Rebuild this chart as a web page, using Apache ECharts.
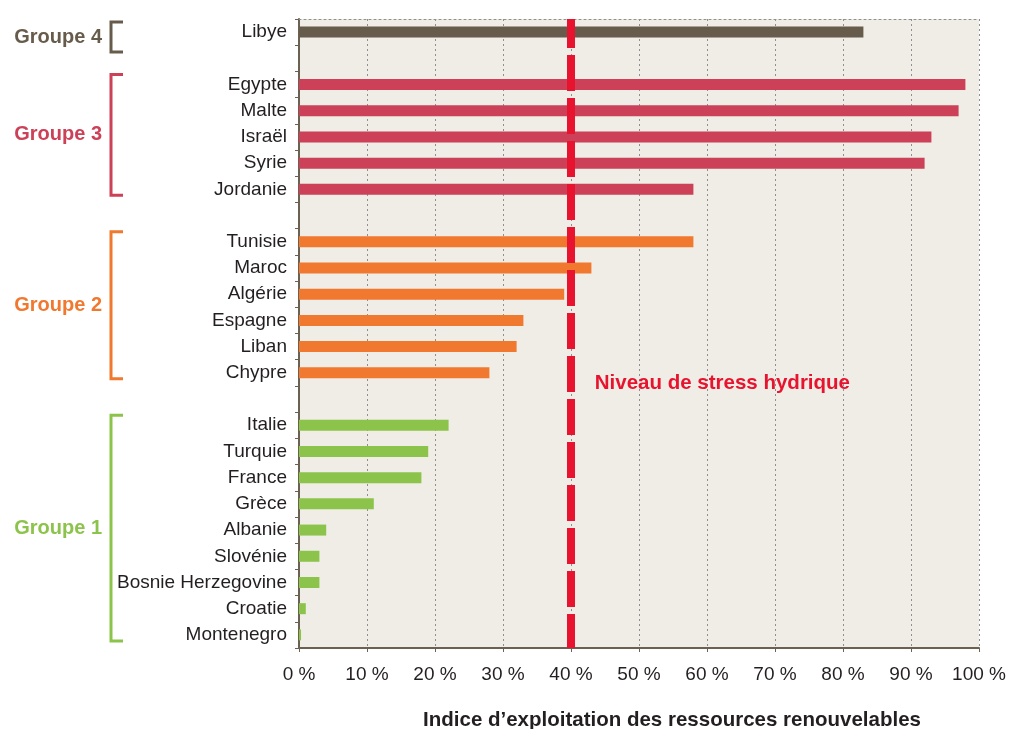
<!DOCTYPE html>
<html>
<head>
<meta charset="utf-8">
<script src="https://cdn.jsdelivr.net/npm/echarts@6/dist/echarts.min.js"></script>
<style>
    html, body { margin: 0; padding: 0; background: #fff; }
    #chart { width: 1019px; height: 729px; }
</style>
</head>
<body>
<div id="chart"></div>
<script>
// données par groupe (du haut vers le bas)
const group4Countries = ['Libye'];
const group4Values = [83];
const group3Countries = ['Egypte', 'Malte', 'Israël', 'Syrie', 'Jordanie'];
const group3Values = [98, 97, 93, 92, 58];
const group2Countries = ['Tunisie', 'Maroc', 'Algérie', 'Espagne', 'Liban', 'Chypre'];
const group2Values = [58, 43, 39, 33, 32, 28];
const group1Countries = ['Italie', 'Turquie', 'France', 'Grèce', 'Albanie', 'Slovénie', 'Bosnie Herzegovine', 'Croatie', 'Montenegro'];
const group1Values = [22, 19, 18, 11, 4, 3, 3, 1, 0.3];
const xTicks = [0, 10, 20, 30, 40, 50, 60, 70, 80, 90, 100];
const stressLevel = 40;

const groups = [
    { name: 'Groupe 4', color: '#675c4c', countries: group4Countries, values: group4Values },
    { name: 'Groupe 3', color: '#cc4157', countries: group3Countries, values: group3Values },
    { name: 'Groupe 2', color: '#f0782f', countries: group2Countries, values: group2Values },
    { name: 'Groupe 1', color: '#8cc34a', countries: group1Countries, values: group1Values }
];

// catégories avec une ligne vide entre les groupes
const categories = [];
const barData = [];
groups.forEach((g, gi) => {
    if (gi > 0) {
        categories.push(' '.repeat(gi));
        barData.push(null);
    }
    g.countries.forEach((c, i) => {
        categories.push(c);
        barData.push({ value: g.values[i], itemStyle: { color: g.color } });
    });
});

const font = '"Liberation Sans", Arial, sans-serif';
const myChart = echarts.init(document.getElementById('chart'));

const option = {
    animation: false,
    grid: {
        left: 299,
        right: 40,
        top: 19,
        bottom: 81,
        outerBoundsMode: 'none',
        containLabel: false,
        show: true,
        backgroundColor: '#efede5',
        borderWidth: 0
    },
    xAxis: [
        {
            type: 'value',
            min: xTicks[0],
            max: xTicks[xTicks.length - 1],
            interval: 10,
            name: 'Indice d\u2019exploitation des ressources renouvelables',
            nameLocation: 'middle',
            nameGap: 62,
            nameTextStyle: {
                fontFamily: font,
                fontSize: 20.5,
                fontWeight: 'bold',
                color: '#231f20',
                padding: [0, 0, 0, 66]
            },
            axisLine: { show: true, lineStyle: { color: '#6b6152', width: 2 } },
            axisTick: { show: true, length: 4, lineStyle: { color: '#6b6152' } },
            axisLabel: {
                margin: 17,
                fontFamily: font,
                fontSize: 19,
                color: '#231f20',
                formatter: '{value} %'
            },
            splitLine: { show: true, lineStyle: { color: '#8f8f8f', type: [2, 3], width: 1 } }
        },
        {
            type: 'value',
            position: 'top',
            min: 0,
            max: 100,
            interval: 10,
            axisLine: { show: true, lineStyle: { color: '#8f8f8f', type: [2, 3], width: 1 } },
            axisTick: { show: false },
            axisLabel: { show: false },
            splitLine: { show: false }
        }
    ],
    yAxis: {
        type: 'category',
        inverse: true,
        data: categories,
        axisLine: { show: true, lineStyle: { color: '#6b6152', width: 2 } },
        axisTick: { show: true, length: 4, lineStyle: { color: '#6b6152' } },
        axisLabel: {
            margin: 12,
            fontFamily: font,
            fontSize: 19,
            color: '#231f20'
        }
    },
    series: [
        {
            type: 'bar',
            data: barData,
            barWidth: 11,
            markLine: {
                silent: true,
                symbol: 'none',
                label: { show: false },
                lineStyle: { color: '#e8132f', width: 8, type: [36, 7], dashOffset: 7 },
                data: [{ xAxis: stressLevel }]
            }
        }
    ]
};
myChart.setOption(option);

// accolades des groupes et annotation, placées via les axes
const graphics = [];
groups.forEach(g => {
    const first = myChart.convertToPixel({ yAxisIndex: 0 }, g.countries[0]);
    const last = myChart.convertToPixel({ yAxisIndex: 0 }, g.countries[g.countries.length - 1]);
    const top = first - 10;
    const bottom = Math.max(last + 6, top + 30);
    graphics.push({
        type: 'polyline',
        shape: { points: [[123, top], [111, top], [111, bottom], [123, bottom]] },
        style: { stroke: g.color, lineWidth: 3, fill: null }
    });
    graphics.push({
        type: 'text',
        x: 102,
        y: (top + bottom) / 2,
        style: {
            text: g.name,
            fill: g.color,
            font: 'bold 20px ' + font,
            align: 'right',
            verticalAlign: 'middle'
        }
    });
});
const chyY = myChart.convertToPixel({ yAxisIndex: 0 }, 'Chypre');
graphics.push({
    type: 'text',
    x: myChart.convertToPixel({ xAxisIndex: 0 }, 43.5),
    y: chyY + 11,
    style: {
        text: 'Niveau de stress hydrique',
        fill: '#e8132f',
        font: 'bold 20.5px ' + font,
        align: 'left',
        verticalAlign: 'middle'
    }
});
myChart.setOption({ graphic: graphics });
</script>
</body>
</html>
